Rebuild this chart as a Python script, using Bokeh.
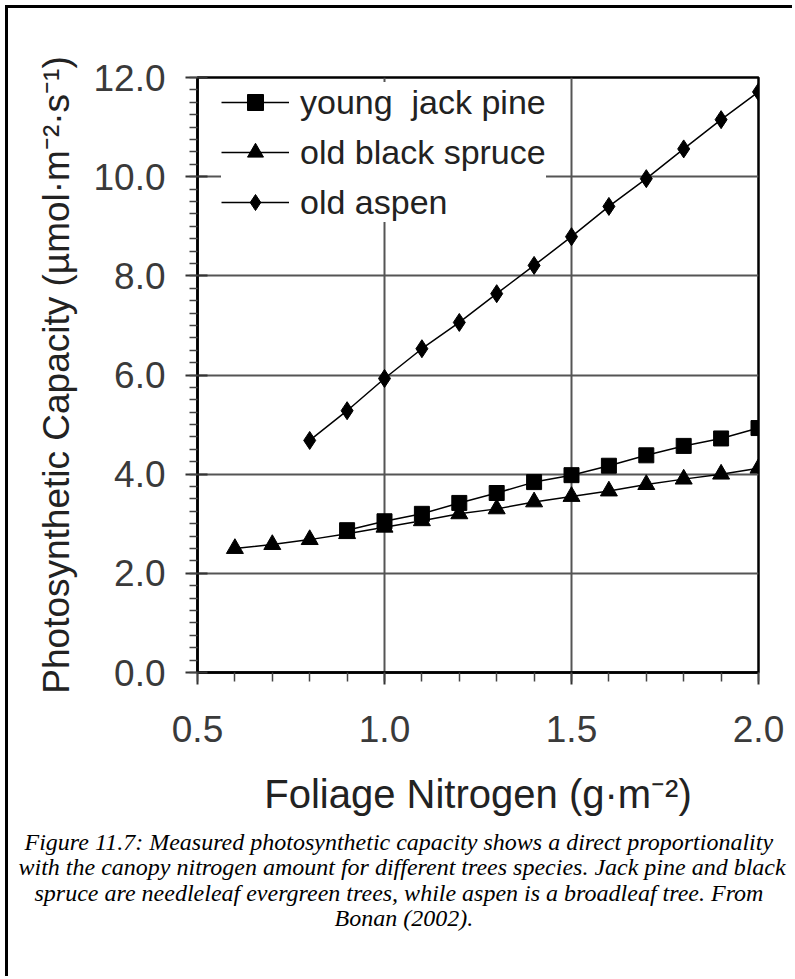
import math
from bokeh.plotting import figure
from bokeh.models import (Range1d, FixedTicker, Legend, LegendItem, Title)
from bokeh.embed import file_html
from bokeh.resources import INLINE

# ---------------- data ----------------
pine_x = [0.9, 1.0, 1.1, 1.2, 1.3, 1.4, 1.5, 1.6, 1.7, 1.8, 1.9, 2.0]
pine_y = [2.87, 3.05, 3.20, 3.42, 3.62, 3.84, 3.98, 4.17, 4.38, 4.57, 4.72, 4.93]

spruce_x = [0.6, 0.7, 0.8, 0.9, 1.0, 1.1, 1.2, 1.3, 1.4, 1.5, 1.6, 1.7, 1.8, 1.9, 2.0]
spruce_y = [2.50, 2.58, 2.68, 2.80, 2.93, 3.06, 3.20, 3.30, 3.44, 3.55, 3.66, 3.79, 3.90, 4.00, 4.12]

aspen_x = [0.8, 0.9, 1.0, 1.1, 1.2, 1.3, 1.4, 1.5, 1.6, 1.7, 1.8, 1.9, 2.0]
aspen_y = [4.68, 5.28, 5.93, 6.53, 7.06, 7.64, 8.21, 8.79, 9.40, 9.96, 10.56, 11.15, 11.71]

series_names = ["young  jack pine", "old black spruce", "old aspen"]

x_ticks = [0.5, 1.0, 1.5, 2.0]
x_tick_labels = ["0.5", "1.0", "1.5", "2.0"]
x_minor_ticks = [0.5, 0.6, 0.7, 0.8, 0.9, 1.0, 1.1, 1.2, 1.3, 1.4, 1.5,
                 1.6, 1.7, 1.8, 1.9, 2.0]
y_ticks = [0, 2, 4, 6, 8, 10, 12]
y_tick_labels = ["0.0", "2.0", "4.0", "6.0", "8.0", "10.0", "12.0"]
y_minor_ticks = [i * 0.25 for i in range(0, 49)]

x_title = "Foliage Nitrogen (g\u00b7m\u207b\u00b2)"
y_title = "Photosynthetic Capacity (\u00b5mol\u00b7m\u207b\u00b2\u00b7s\u207b\u00b9)"
caption_lines = [
    "Figure 11.7: Measured photosynthetic capacity shows a direct proportionality",
    "with the canopy nitrogen amount for different trees species. Jack pine and black",
    "spruce are needleleaf evergreen trees, while aspen is a broadleaf tree. From",
    "Bonan (2002).",
]
caption_left = [24, 18, 34, 334]        # left edge of each caption line on the page
caption_standoff = [16, -22, 18, -24]   # spacing of the stacked caption lines

# ---------------- layout constants ----------------
OX = 8                               # page offset of the figure (margin + border)
W, H = 795 - OX, 979 - OX
FL, FR, FT, FB = 197, 758, 77, 672   # frame edges on the page

p = figure(width=W, height=H, output_backend="svg", toolbar_location=None,
           x_range=Range1d(0.5, 2.0), y_range=Range1d(0, 12),
           min_border_left=FL - OX, min_border_right=795 - FR,
           min_border_top=FT - OX, min_border_bottom=979 - FB)
p.margin = (5, 0, 0, 5)
p.styles = {"border-left": "3px solid black", "border-top": "3px solid black"}
p.background_fill_color = "white"
p.border_fill_color = "white"
p.outline_line_color = "black"
p.outline_line_width = 2.5

# axes
FONT = "Liberation Sans"
xa = p.xaxis[0]
xa.ticker = FixedTicker(ticks=x_ticks, minor_ticks=x_minor_ticks)
xa.major_label_overrides = dict(zip(x_ticks, x_tick_labels))
xa.axis_label = x_title
ya = p.yaxis[0]
ya.ticker = FixedTicker(ticks=y_ticks, minor_ticks=y_minor_ticks)
ya.major_label_overrides = dict(zip(y_ticks, y_tick_labels))
ya.axis_label = y_title

for ax in (xa, ya):
    ax.axis_line_color = "black"
    ax.axis_line_width = 2.5
    ax.major_tick_line_color = "#333333"
    ax.major_tick_line_width = 2
    ax.minor_tick_line_color = "#444444"
    ax.minor_tick_line_width = 1.5
    ax.major_label_text_font = FONT
    ax.major_label_text_font_size = "37px"
    ax.major_label_text_color = "#3a3a3a"
    ax.axis_label_text_font = FONT
    ax.axis_label_text_font_style = "normal"
    ax.axis_label_text_color = "#222222"

xa.major_tick_out = 12
xa.major_tick_in = 0
xa.minor_tick_out = 9
xa.minor_tick_in = 0
xa.major_label_standoff = 31
xa.axis_label_text_font_size = "40px"
xa.axis_label_standoff = 27

ya.major_tick_out = 12
ya.major_tick_in = 10
ya.minor_tick_out = 8
ya.minor_tick_in = 0
ya.major_label_standoff = 20
ya.axis_label_text_font_size = "37px"
ya.axis_label_standoff = 13

# grid
p.xgrid[0].ticker = FixedTicker(ticks=x_ticks)
p.ygrid[0].ticker = FixedTicker(ticks=y_ticks)
for g in (p.xgrid[0], p.ygrid[0]):
    g.grid_line_color = "#555555"
    g.grid_line_width = 2

# series
l1 = p.line(pine_x, pine_y, line_color="black", line_width=1.5)
s1 = p.scatter(pine_x, pine_y, marker="square", size=15, color="black")
l2 = p.line(spruce_x, spruce_y, line_color="black", line_width=1.5)
s2 = p.scatter(spruce_x, spruce_y, marker="triangle", size=17, color="black")
l3 = p.line(aspen_x, aspen_y, line_color="black", line_width=1.5)
s3 = p.scatter(aspen_x, aspen_y, marker="diamond", size=18, color="black")

legend = Legend(items=[
    LegendItem(label=series_names[0], renderers=[l1, s1]),
    LegendItem(label=series_names[1], renderers=[l2, s2]),
    LegendItem(label=series_names[2], renderers=[l3, s3]),
], location=(24, 450), margin=0, padding=5, spacing=10,
   glyph_width=68, glyph_height=40, label_height=40, label_standoff=11,
   label_text_font=FONT, label_text_font_size="34px",
   label_text_color="#222222",
   background_fill_color="white", background_fill_alpha=1.0,
   border_line_color=None)
p.add_layout(legend)

# caption, one title per line below the x axis
for txt, lx, so in zip(caption_lines, caption_left, caption_standoff):
    t = Title(text=txt, align="left", offset=lx - FL,
              text_font="Liberation Serif", text_font_style="italic",
              text_font_size="24px", text_color="black", standoff=so)
    p.add_layout(t, "below")

open("out.html", "w").write(file_html(p, INLINE))
